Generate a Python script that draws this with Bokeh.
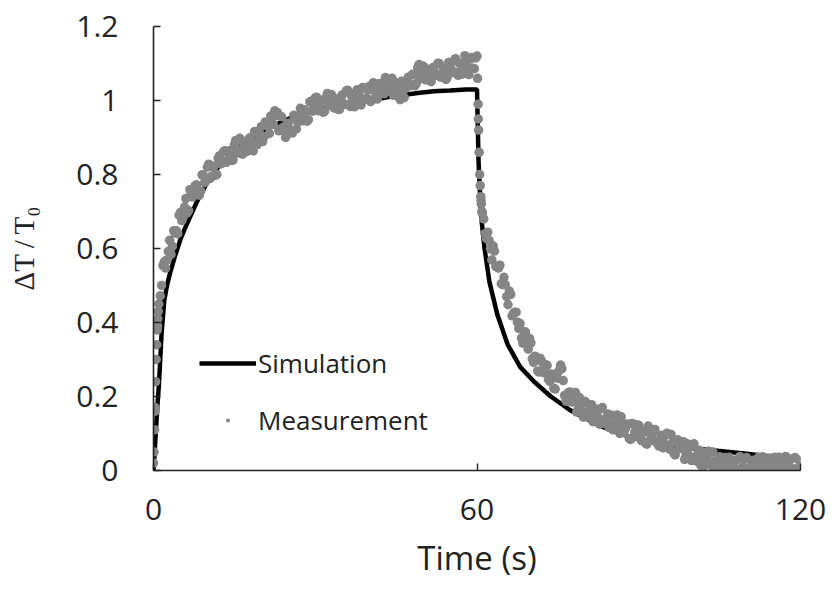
import numpy as np
from bokeh.plotting import figure
from bokeh.models import Range1d, FixedTicker, Legend, LegendItem
from bokeh.embed import file_html
from bokeh.resources import INLINE

# ---------------- data ----------------
sim_t = [0, 0.25, 0.5, 0.75, 1.0, 1.25, 1.5, 2.0, 2.5, 3.0, 4.0, 5.0, 6.0,
         8.0, 10, 12, 14, 16, 18, 20, 22, 25, 28, 31, 34, 37, 40, 43, 46,
         49, 52, 55, 58, 60, 60.3, 60.75, 61.4, 62.3, 63.8, 65.7, 68, 70.6,
         73.7, 77.4, 80, 83, 87, 91, 95, 100, 105, 110, 115, 120]
sim_v = [0, 0.06, 0.12, 0.18, 0.23, 0.30, 0.37, 0.46, 0.50, 0.53, 0.58, 0.625, 0.66,
         0.725, 0.78, 0.82, 0.85, 0.875, 0.895, 0.915, 0.93, 0.95, 0.965, 0.978, 0.985,
         0.993, 1.0, 1.008, 1.014, 1.02, 1.025, 1.027, 1.03, 1.03, 0.83, 0.69, 0.60,
         0.51, 0.42, 0.34, 0.28, 0.24, 0.20, 0.162, 0.142, 0.12, 0.097, 0.081, 0.07,
         0.06, 0.053, 0.045, 0.037, 0.03]

# measurement, samples on the half seconds (0, 0.5, ... 120 s)
meas_t = np.arange(0, 120.01, 0.5)
meas_v = [
    0.02, 0.30, 0.45, 0.50, 0.564, 0.569, 0.622, 0.606, 0.642, 0.64,
    0.697, 0.685, 0.735, 0.703, 0.748, 0.746, 0.772, 0.744, 0.799, 0.778,
    0.82, 0.789, 0.821, 0.798, 0.844, 0.829, 0.862, 0.833, 0.855, 0.838,
    0.88, 0.858, 0.898, 0.855, 0.888, 0.88, 0.899, 0.864, 0.912, 0.888,
    0.93, 0.902, 0.934, 0.911, 0.954, 0.972, 0.967, 0.921, 0.927, 0.90,
    0.939, 0.918, 0.96, 0.923, 0.96, 0.954, 0.975, 0.944, 0.996, 0.971,
    1.007, 0.972, 0.997, 0.968, 1.007, 0.987, 1.016, 0.98, 0.997, 0.976,
    1.015, 0.99, 1.028, 0.984, 1.016, 1.006, 1.024, 0.988, 1.034, 1.005,
    1.038, 1.002, 1.03, 1.004, 1.046, 1.03, 1.062, 1.026, 1.04, 1.014,
    1.047, 1.018, 1.052, 1.008, 1.046, 1.044, 1.07, 1.04, 1.089, 1.06,
    1.093, 1.056, 1.081, 1.051, 1.09, 1.07, 1.10, 1.066, 1.084, 1.064,
    1.102, 1.076, 1.113, 1.068, 1.10, 1.09, 1.107, 1.07, 1.116, 1.086,
    1.12,
    0.80, 0.696, 0.64, 0.644, 0.599, 0.607, 0.551, 0.547, 0.505, 0.522,
    0.47, 0.485, 0.418, 0.428, 0.401, 0.397, 0.344, 0.374, 0.328, 0.345,
    0.292, 0.306, 0.266, 0.294, 0.264, 0.284, 0.241, 0.25, 0.22, 0.249,
    0.285, 0.243, 0.188, 0.211, 0.192, 0.202, 0.158, 0.197, 0.16, 0.187,
    0.145, 0.166, 0.132, 0.166, 0.142, 0.167, 0.128, 0.142, 0.116, 0.149,
    0.118, 0.15, 0.10, 0.128, 0.113, 0.126, 0.084, 0.126, 0.092, 0.122,
    0.081, 0.103, 0.071, 0.107, 0.085, 0.111, 0.073, 0.086, 0.061, 0.095,
    0.065, 0.097, 0.047, 0.074, 0.059, 0.072, 0.03, 0.072, 0.038, 0.067,
    0.026, 0.047, 0.014, 0.049, 0.026, 0.052, 0.013, 0.026, 0.002, 0.037,
    0.008, 0.035, 0.002, 0.024, 0.012, 0.028, 0.001, 0.034, 0.003, 0.035,
    0.003, 0.021, 0.003, 0.029, 0.009, 0.037, 0.001, 0.018, 0.002, 0.033,
    0.006, 0.036, 0.002, 0.024, 0.012, 0.028, 0.002, 0.035, 0.004, 0.02,
]
# measurement, samples on the quarter seconds (0.25, 0.75, ... 119.75 s)
meas2_t = np.arange(0.25, 120, 0.5)
meas2_v = [
    0.16, 0.39, 0.472, 0.554, 0.547, 0.592, 0.584, 0.648, 0.648, 0.69,
    0.675, 0.712, 0.696, 0.759, 0.739, 0.77, 0.754, 0.755, 0.797, 0.787,
    0.828, 0.795, 0.823, 0.80, 0.851, 0.836, 0.864, 0.837, 0.865, 0.839,
    0.892, 0.865, 0.89, 0.868, 0.862, 0.898, 0.881, 0.916, 0.881, 0.909,
    0.889, 0.942, 0.93, 0.958, 0.935, 0.959, 0.918, 0.956, 0.917, 0.936,
    0.914, 0.912, 0.952, 0.941, 0.979, 0.945, 0.971, 0.948, 0.998, 0.983,
    1.009, 0.978, 1.001, 0.971, 1.019, 0.988, 1.009, 0.984, 0.976, 1.009,
    0.991, 1.026, 0.989, 1.011, 0.983, 1.029, 1.011, 1.035, 1.003, 1.027,
    0.997, 1.048, 1.02, 1.045, 1.023, 1.018, 1.052, 1.031, 1.06, 1.016,
    1.033, 1.002, 1.047, 1.032, 1.063, 1.04, 1.071, 1.046, 1.097, 1.067,
    1.089, 1.064, 1.055, 1.088, 1.068, 1.101, 1.063, 1.085, 1.057, 1.103,
    1.084, 1.107, 1.076, 1.10, 1.071, 1.121, 1.09, 1.112, 1.087, 1.115,
    0.95, 0.73, 0.68, 0.627, 0.622, 0.569, 0.593, 0.553, 0.555, 0.502,
    0.502, 0.448, 0.476, 0.424, 0.428, 0.384, 0.358, 0.375, 0.34, 0.357,
    0.302, 0.309, 0.269, 0.303, 0.273, 0.286, 0.246, 0.261, 0.222, 0.262,
    0.27, 0.275, 0.203, 0.187, 0.212, 0.185, 0.211, 0.165, 0.179, 0.144,
    0.183, 0.16, 0.178, 0.141, 0.159, 0.125, 0.17, 0.135, 0.153, 0.123,
    0.11, 0.139, 0.116, 0.145, 0.103, 0.12, 0.086, 0.127, 0.104, 0.123,
    0.088, 0.107, 0.074, 0.12, 0.086, 0.105, 0.077, 0.066, 0.095, 0.072,
    0.101, 0.058, 0.075, 0.042, 0.083, 0.06, 0.078, 0.042, 0.061, 0.027,
    0.072, 0.037, 0.055, 0.026, 0.014, 0.043, 0.021, 0.05, 0.007, 0.025,
    0.003, 0.034, 0.014, 0.036, 0.003, 0.025, 0.0, 0.038, 0.01, 0.031,
    0.005, 0.0, 0.028, 0.008, 0.036, 0.0, 0.02, 0.0, 0.034, 0.014,
    0.036, 0.003, 0.025, 0.0, 0.038, 0.01, 0.031, 0.005, 0.002, 0.028,
]
# extra samples in the two steep transitions
rise_t = [0.1, 0.2, 0.3, 0.4, 0.6, 0.7, 0.8, 0.9]
rise_v = [0.05, 0.11, 0.17, 0.24, 0.34, 0.38, 0.41, 0.43]
drop_t = [60.1, 60.2, 60.3, 60.4, 60.6, 60.7, 60.8, 60.9]
drop_v = [1.06, 0.99, 0.92, 0.86, 0.77, 0.74, 0.72, 0.70]

x_ticks = [0, 60, 120]
y_ticks = [0, 0.2, 0.4, 0.6, 0.8, 1.0, 1.2]
y_tick_labels = ["0", "0.2", "0.4", "0.6", "0.8", "1", "1.2"]

all_t = list(meas_t) + list(meas2_t) + rise_t + drop_t
all_v = meas_v + meas2_v + rise_v + drop_v

# ---------------- figure ----------------
SANS = "Open Sans"
TXT = "#222222"
GREY = "#858585"

p = figure(width=836, height=598, output_backend="svg", toolbar_location=None,
           x_range=Range1d(0, 120), y_range=Range1d(0, 1.2),
           min_border_left=153, min_border_right=36,
           min_border_top=26, min_border_bottom=128)
p.outline_line_color = None
p.xgrid.visible = False
p.ygrid.visible = False
p.background_fill_color = "white"
p.border_fill_color = "white"

sim_r = p.line(sim_t, sim_v, line_width=4.5, line_color="black")
meas_r = p.scatter(all_t, all_v, size=9.5, fill_color=GREY, line_color=GREY, line_width=0)

for ax in (p.xaxis[0], p.yaxis[0]):
    ax.axis_line_color = TXT
    ax.axis_line_width = 1.6
    ax.major_tick_line_color = TXT
    ax.major_tick_line_width = 1.4
    ax.major_tick_in = 7
    ax.major_tick_out = 0
    ax.minor_tick_line_color = None
    ax.major_label_text_font = SANS
    ax.major_label_text_font_size = "30px"
    ax.major_label_text_color = TXT

p.xaxis.ticker = FixedTicker(ticks=x_ticks)
p.yaxis.ticker = FixedTicker(ticks=y_ticks)
p.yaxis.major_label_overrides = {v: s for v, s in zip(y_ticks, y_tick_labels)}
p.yaxis.major_label_standoff = 35
p.xaxis.major_label_standoff = 28

p.xaxis.axis_label = "Time (s)"
p.xaxis.axis_label_text_font = SANS
p.xaxis.axis_label_text_font_style = "normal"
p.xaxis.axis_label_text_font_size = "33px"
p.xaxis.axis_label_text_color = TXT
p.xaxis.axis_label_standoff = 12

p.yaxis.axis_label = "ΔT\u2009/\u2009T₀"
p.yaxis.axis_label_text_font = "Liberation Serif"
p.yaxis.axis_label_text_font_style = "normal"
p.yaxis.axis_label_text_font_size = "29px"
p.yaxis.axis_label_text_color = TXT
p.yaxis.axis_label_standoff = 33

legend = Legend(items=[LegendItem(label="Simulation", renderers=[sim_r]),
                       LegendItem(label="Measurement", renderers=[meas_r])],
                location=(46, 32), orientation="vertical",
                glyph_width=57, glyph_height=10, label_standoff=2, spacing=21,
                padding=0, margin=0, border_line_color=None,
                background_fill_alpha=0,
                label_text_font=SANS, label_text_font_size="26px",
                label_text_color=TXT)
p.add_layout(legend)

open("out.html", "w").write(file_html(p, INLINE))
